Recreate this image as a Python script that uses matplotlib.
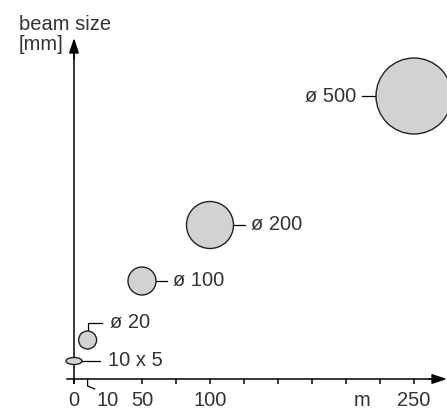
import matplotlib
matplotlib.use("Agg")
import matplotlib.pyplot as plt
from matplotlib.patches import Ellipse

# ---- data ----
distance_m = [0, 10, 50, 100, 250]
beam_labels = ["10 x 5", "ø 20", "ø 100", "ø 200", "ø 500"]
beam_level = [18, 39, 98, 154, 283]          # schematic height above axis
beam_w_px = [16, 18, 28, 47, 76]             # drawn width of spot
beam_h_px = [7, 18, 28, 47, 76]              # drawn height of spot
tick_values = [0, 50, 75, 100, 125, 150, 175, 200, 225, 250]
tick_labels = {0: "0", 50: "50", 100: "100", 250: "250"}
unit_pos = 212
y_title = "beam size\n[mm]"

PX_PER_M = 34 / 25
FONT = "Liberation Sans"
TXT = "#333333"
FS = 14.5

fig = plt.figure(figsize=(4.47, 4.09), dpi=100)
ax = fig.add_axes([0, 0, 1, 1])
ax.set_xlim(-74 / PX_PER_M, (447 - 74) / PX_PER_M)
ax.set_ylim(-30, 379)
ax.axis("off")

def px(v):
    return v / PX_PER_M

# axes with arrows
ax.plot([px(-7), px(365)], [0, 0], color="black", lw=1.1)
ax.annotate("", xy=(px(373), 0), xytext=(px(355), 0),
            arrowprops=dict(arrowstyle="-|>,head_length=0.9,head_width=0.3",
                            color="black", lw=1.1, shrinkA=0, shrinkB=0))
ax.plot([0, 0], [-4, 330], color="black", lw=1.1)
ax.annotate("", xy=(0, 341), xytext=(0, 320),
            arrowprops=dict(arrowstyle="-|>,head_length=0.9,head_width=0.3",
                            color="black", lw=1.1, shrinkA=0, shrinkB=0))

# ticks
ax.vlines(tick_values, -5, 0, color="black", lw=1.1)
for v, s in tick_labels.items():
    ax.text(v, -22, s, ha="center", va="center", fontsize=FS,
            family=FONT, color=TXT)
ax.text(unit_pos, -22, "m", ha="center", va="center", fontsize=FS,
        family=FONT, color=TXT)
# "10" tick label with leader
d10 = distance_m[1]
ax.plot([d10, d10, d10 + px(7)], [0, -7, -10], color="black", lw=0.9)
ax.text(d10 + px(9), -22, "10", ha="left", va="center", fontsize=FS,
        family=FONT, color=TXT)

# axis title
ax.text(px(-55), 364, y_title, ha="left", va="top", fontsize=FS,
        family=FONT, color=TXT, linespacing=1.05)

# beam spots
for d, lvl, w, h in zip(distance_m, beam_level, beam_w_px, beam_h_px):
    ax.add_patch(Ellipse((d, lvl), px(w), h, facecolor="#d2d2d2",
                         edgecolor="#222222", lw=1.0, zorder=3))

# labels with leaders
# 10 x 5
d, lvl, w = distance_m[0], beam_level[0], beam_w_px[0]
ax.plot([px(w / 2), px(26)], [lvl, lvl], color="black", lw=0.9)
ax.text(px(34), lvl, beam_labels[0], ha="left", va="center", fontsize=FS,
        family=FONT, color=TXT)
# ø 20 (L-shaped leader)
d, lvl, h = distance_m[1], beam_level[1], beam_h_px[1]
ax.plot([d, d, d + px(14)], [lvl + h / 2, lvl + 17, lvl + 17],
        color="black", lw=0.9)
ax.text(d + px(22), lvl + 17, beam_labels[1], ha="left", va="center",
        fontsize=FS, family=FONT, color=TXT)
# ø 100 and ø 200 (right)
for i in (2, 3):
    d, lvl, w = distance_m[i], beam_level[i], beam_w_px[i]
    ax.plot([d + px(w / 2), d + px(w / 2 + 11)], [lvl, lvl],
            color="black", lw=0.9)
    ax.text(d + px(w / 2 + 17), lvl, beam_labels[i], ha="left",
            va="center", fontsize=FS, family=FONT, color=TXT)
# ø 500 (left)
d, lvl, w = distance_m[4], beam_level[4], beam_w_px[4]
ax.plot([d - px(w / 2), d - px(w / 2 + 14)], [lvl, lvl],
        color="black", lw=0.9)
ax.text(d - px(w / 2 + 20), lvl, beam_labels[4], ha="right",
        va="center", fontsize=FS, family=FONT, color=TXT)

fig.savefig("out.png", dpi=100)
